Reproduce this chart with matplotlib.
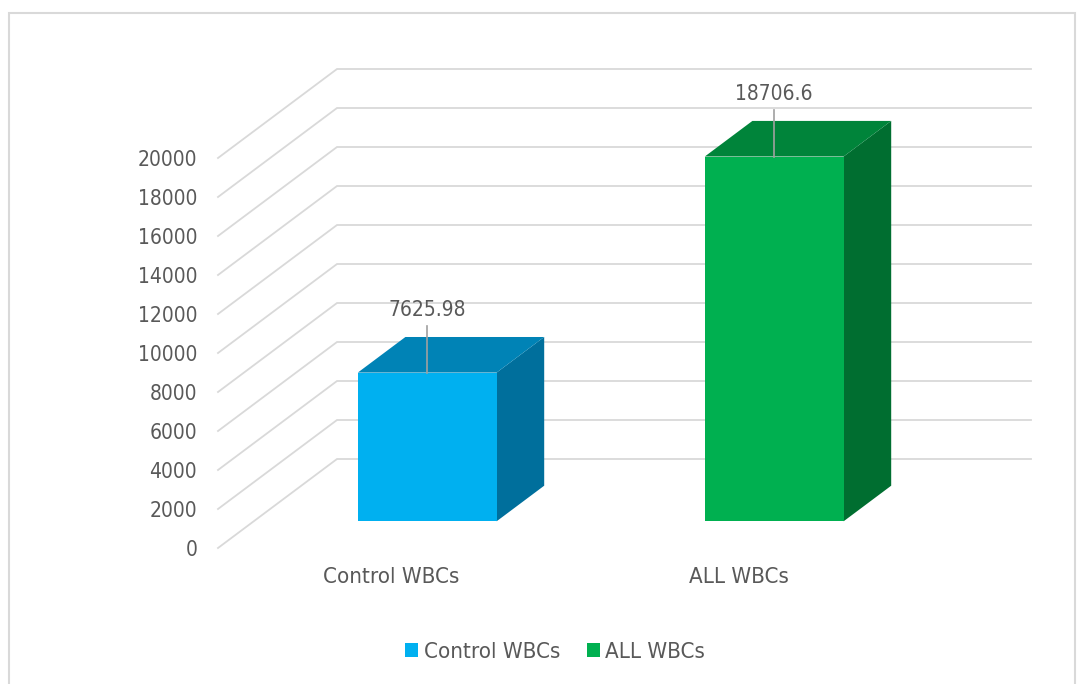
import matplotlib
matplotlib.use('Agg')
import matplotlib.pyplot as plt
from matplotlib.patches import Polygon, Rectangle, Patch


categories = ['Control WBCs', 'ALL WBCs']
values = [7625.98, 18706.6]
value_labels = ['7625.98', '18706.6']
yticks = list(range(0, 20001, 2000))

front_colors = ['#00B0F0', '#00B050']
top_colors = ['#0083B6', '#00843A']
side_colors = ['#006F9C', '#006E30']

FONT = ['DejaVu Sans Condensed', 'DejaVu Sans']
STRETCH = 'condensed'
TXT = '#595959'
GRID = '#D9D9D9'

W, H = 1080, 684
fig = plt.figure(figsize=(W / 100, H / 100), dpi=100)

# pixel -> data helpers (front plane at z=0)
PX_CAT = 347.0            # pixels per category
VPP = 20000 / 390.0       # value per pixel
x0_px, y0_px = 218, 548   # front-left corner of the floor
ax = fig.add_axes([x0_px / W, (H - y0_px) / H, (W - x0_px) / W, y0_px / H])
ax.set_xlim(-0.5, -0.5 + (W - x0_px) / PX_CAT)
ax.set_ylim(0, y0_px * VPP)

# oblique depth offsets in data units
DX = 119 / PX_CAT
DY = 89 * VPP


def proj(x, y, z):
    return (x + z * DX, y + z * DY)


# back wall + left wall gridlines
for v in yticks:
    pts = [proj(-0.5, v, 0), proj(-0.5, v, 1), proj(len(categories) - 0.5, v, 1)]
    ax.plot([p[0] for p in pts], [p[1] for p in pts], color=GRID, lw=1.3,
            solid_joinstyle='miter', zorder=1, clip_on=False)

# 3D bars
half = 0.2
z1, z2 = 0.3, 0.7
for i, v in enumerate(values):
    l, r = i - half, i + half
    front = [proj(l, 0, z1), proj(r, 0, z1), proj(r, v, z1), proj(l, v, z1)]
    top = [proj(l, v, z1), proj(r, v, z1), proj(r, v, z2), proj(l, v, z2)]
    side = [proj(r, 0, z1), proj(r, 0, z2), proj(r, v, z2), proj(r, v, z1)]
    ax.add_patch(Polygon(side, closed=True, fc=side_colors[i], ec='none', zorder=3, clip_on=False))
    ax.add_patch(Polygon(top, closed=True, fc=top_colors[i], ec='none', zorder=3, clip_on=False))
    ax.add_patch(Polygon(front, closed=True, fc=front_colors[i], ec='none', zorder=4, clip_on=False))

    # data label with leader line
    cx, cy = proj(i, v, z1)
    ax.plot([cx, cx], [cy, cy + 47 * VPP], color='#A0A0A0', lw=1.2, zorder=5, clip_on=False)
    ax.text(cx, cy + 57 * VPP, value_labels[i], ha='center', va='baseline',
            family=FONT, stretch=STRETCH, fontsize=15, color=TXT, zorder=6)

# axes ticks
ax.set_yticks(yticks)
ax.set_yticklabels([str(t) for t in yticks])
ax.set_xticks(range(len(categories)))
ax.set_xticklabels(categories)
ax.tick_params(axis='y', length=0, pad=15, labelcolor=TXT, labelsize=15)
ax.tick_params(axis='x', length=0, pad=14, labelcolor=TXT, labelsize=16)
for lab in ax.get_xticklabels() + ax.get_yticklabels():
    lab.set_family(FONT)
    lab.set_stretch(STRETCH)
for s in ax.spines.values():
    s.set_visible(False)
ax.patch.set_visible(False)

# legend
handles = [Patch(facecolor=c, edgecolor='none', label=n) for c, n in zip(front_colors, categories)]
leg = fig.legend(handles=handles, loc='center', bbox_to_anchor=(555 / W, (H - 652) / H),
                 ncol=2, frameon=False,
                 prop={'family': FONT, 'stretch': STRETCH, 'size': 16},
                 handlelength=0.6, handleheight=0.6, handletextpad=0.25,
                 columnspacing=1.2, borderpad=0, borderaxespad=0)
for t in leg.get_texts():
    t.set_color(TXT)

# chart border
fig.patches.append(Rectangle((9 / W, -0.05), (1075 - 9) / W, 1.05 - 13 / H,
                             transform=fig.transFigure, fill=False,
                             ec=GRID, lw=1.5, zorder=0))

fig.savefig('out.png', dpi=100)
